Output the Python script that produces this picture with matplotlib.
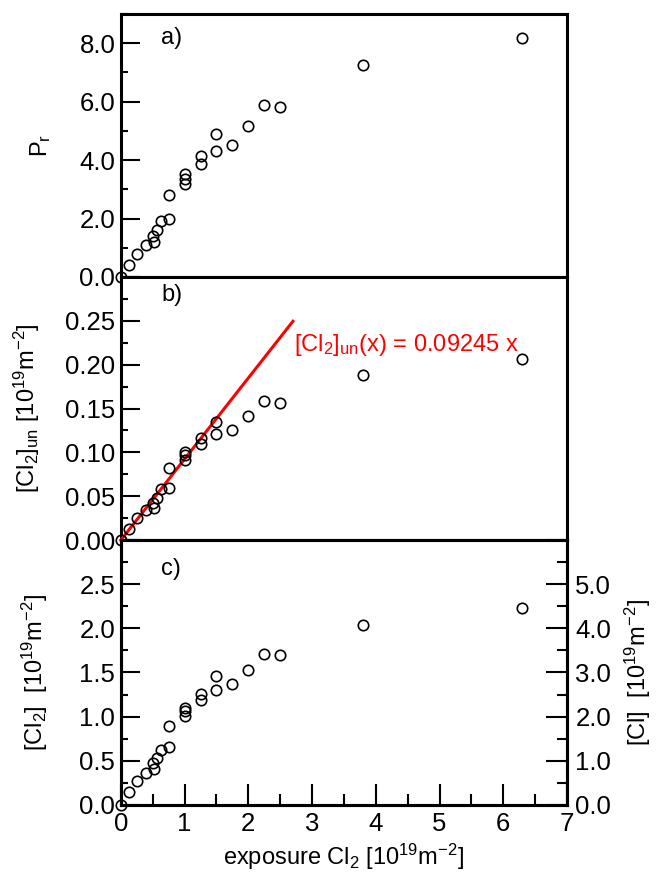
import matplotlib
matplotlib.use('Agg')
import matplotlib.pyplot as plt
from matplotlib.ticker import MultipleLocator, FuncFormatter

plt.rcParams['font.family'] = ['Liberation Sans', 'DejaVu Sans']
plt.rcParams['mathtext.fontset'] = 'custom'
plt.rcParams['mathtext.rm'] = 'Liberation Sans'
plt.rcParams['mathtext.it'] = 'Liberation Sans'

# exposure Cl2 [1e19 m^-2]
exposure = [0.0, 0.13, 0.26, 0.39, 0.50, 0.52, 0.57, 0.63, 0.75, 0.75,
            1.0, 1.0, 1.0, 1.25, 1.25, 1.5, 1.5, 1.75, 2.0, 2.25, 2.5,
            3.8, 6.3]
# reaction probability
p_r = [0.0, 0.41, 0.79, 1.08, 1.40, 1.20, 1.60, 1.91, 2.00, 2.80,
       3.52, 3.37, 3.18, 4.14, 3.86, 4.89, 4.32, 4.52, 5.16, 5.90, 5.82,
       7.27, 8.18]
# unreacted Cl2 coverage
cl2_un = [0.0, 0.0128, 0.0254, 0.034, 0.0425, 0.036, 0.048, 0.0577,
          0.0597, 0.0817, 0.1008, 0.0966, 0.0912, 0.1168, 0.1091, 0.1346,
          0.1206, 0.1259, 0.1411, 0.1583, 0.1563, 0.188, 0.2066]
# Cl2 coverage
cl2 = [0.0, 0.144, 0.276, 0.367, 0.473, 0.405, 0.527, 0.625, 0.652, 0.89,
       1.099, 1.061, 1.004, 1.261, 1.189, 1.458, 1.307, 1.367, 1.527,
       1.712, 1.693, 2.034, 2.235]

slope = 0.09245
fit_x = [0.0, 2.7]

TFS = 18.5  # tick labels
LFS = 17    # axis labels / annotations


def fmt_below(top, digits):
    # label every major tick except the one at the top edge
    def f(v, pos):
        if v >= top - 1e-9:
            return ''
        return '%.*f' % (digits, v)
    return FuncFormatter(f)


fig = plt.figure(figsize=(6.57, 8.81), dpi=100)
left, width = 0.184, 0.679
ax_a = fig.add_axes([left, 0.6856, width, 0.2985])
ax_b = fig.add_axes([left, 0.3870, width, 0.2985])
ax_c = fig.add_axes([left, 0.0863, width, 0.3008])

mk = dict(marker='o', ls='none', ms=7.5, mfc='none', mec='k', mew=1.2,
          clip_on=False, zorder=5)

for ax in (ax_a, ax_b, ax_c):
    for s in ax.spines.values():
        s.set_linewidth(2.2)
    ax.set_xlim(0, 7)
    ax.tick_params(axis='y', which='major', direction='in', length=14,
                   width=1.5, labelsize=TFS, pad=4, right=False)
    ax.tick_params(axis='y', which='minor', direction='in', length=5,
                   width=1.5, right=False)
    ax.tick_params(axis='x', which='both', bottom=False, top=False,
                   labelbottom=False)

ax_a.plot(exposure, p_r, **mk)
ax_a.set_ylim(0, 9)
ax_a.yaxis.set_major_locator(MultipleLocator(2))
ax_a.yaxis.set_minor_locator(MultipleLocator(1))
ax_a.yaxis.set_major_formatter(fmt_below(9, 1))
ax_a.set_ylabel('P$_r$', fontsize=LFS)
ax_a.yaxis.set_label_coords(-0.152, 0.5)
ax_a.text(0.09, 0.91, 'a)', transform=ax_a.transAxes, fontsize=LFS,
          va='center')

ax_b.plot(exposure, cl2_un, **mk)
ax_b.plot(fit_x, [slope * x for x in fit_x], color='red', lw=2.2,
          zorder=4, clip_on=False)
ax_b.text(2.72, 0.222, '[Cl$_2$]$_{un}$(x) = %.5f x' % slope, color='red',
          fontsize=LFS, va='center', ha='left')
ax_b.set_ylim(0, 0.30)
ax_b.yaxis.set_major_locator(MultipleLocator(0.05))
ax_b.yaxis.set_minor_locator(MultipleLocator(0.025))
ax_b.yaxis.set_major_formatter(fmt_below(0.30, 2))
ax_b.set_ylabel('[Cl$_2$]$_{un}$ [10$^{19}$m$^{-2}$]', fontsize=LFS)
ax_b.yaxis.set_label_coords(-0.177, 0.5)
ax_b.text(0.09, 0.93, 'b)', transform=ax_b.transAxes, fontsize=LFS,
          va='center')

ax_c.plot(exposure, cl2, **mk)
ax_c.set_ylim(0, 3.0)
ax_c.yaxis.set_major_locator(MultipleLocator(0.5))
ax_c.yaxis.set_minor_locator(MultipleLocator(0.25))
ax_c.yaxis.set_major_formatter(fmt_below(3.0, 1))
ax_c.set_ylabel('[Cl$_2$]  [10$^{19}$m$^{-2}$]', fontsize=LFS)
ax_c.yaxis.set_label_coords(-0.16, 0.5)
ax_c.text(0.09, 0.89, 'c)', transform=ax_c.transAxes, fontsize=LFS,
          va='center')
ax_c.xaxis.set_major_locator(MultipleLocator(1))
ax_c.xaxis.set_minor_locator(MultipleLocator(0.5))
ax_c.tick_params(axis='x', which='major', bottom=True, labelbottom=True,
                 direction='in', length=15, width=1.5, labelsize=TFS, pad=5)
ax_c.tick_params(axis='x', which='minor', bottom=True, direction='in',
                 length=8, width=1.5)
ax_c.set_xlabel('exposure Cl$_2$ [10$^{19}$m$^{-2}$]', fontsize=LFS)
ax_c.xaxis.set_label_coords(0.5, -0.14)

# atomic Cl scale on the right (two atoms per molecule)
ax_r = ax_c.twinx()
ax_r.set_ylim(0, 6.0)
ax_r.yaxis.set_major_locator(MultipleLocator(1))
ax_r.yaxis.set_minor_locator(MultipleLocator(0.5))
ax_r.yaxis.set_major_formatter(fmt_below(6.0, 1))
ax_r.tick_params(axis='y', which='major', direction='in', length=15,
                 width=1.5, labelsize=TFS, pad=6)
ax_r.tick_params(axis='y', which='minor', direction='in', length=7,
                 width=1.5)
ax_r.set_ylabel('[Cl]  [10$^{19}$m$^{-2}$]', fontsize=LFS)
ax_r.yaxis.set_label_coords(1.126, 0.5)
for s in ax_r.spines.values():
    s.set_linewidth(2.2)

fig.savefig('out.png', dpi=100)
